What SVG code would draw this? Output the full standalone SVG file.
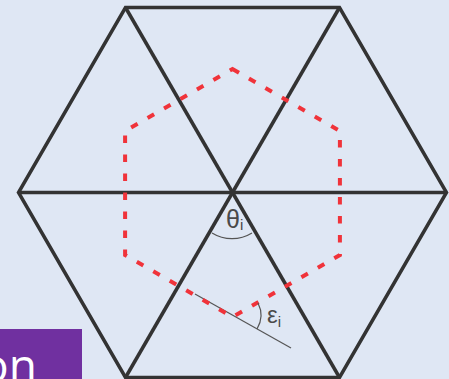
<svg xmlns="http://www.w3.org/2000/svg" width="449" height="379" viewBox="0 0 449 379">
<style>
.hex{fill:none;stroke:#333333;stroke-width:3.5;stroke-linejoin:miter}
.spoke{stroke:#333333;stroke-width:3.5}
.red{fill:none;stroke:#f0333a;stroke-width:4;stroke-dasharray:7.5 11.5}
.thin{fill:none;stroke:#555555;stroke-width:1.2}
.lbl{font-family:"Liberation Sans",Arial,sans-serif;fill:#4a4a4a}
</style>
<rect x="0" y="0" width="449" height="379" fill="#dfe7f4"/>
<g id="outer-hexagon">
<polygon class="hex" points="125.5,7.5 339.5,7.5 446.5,192.5 339.5,377.5 125.5,377.5 18.5,192.5"/>
</g>
<g id="connectors">
<line class="spoke" x1="18.5" y1="192.5" x2="446.5" y2="192.5"/>
<line class="spoke" x1="125.5" y1="7.5" x2="339.5" y2="377.5"/>
<line class="spoke" x1="339.5" y1="7.5" x2="125.5" y2="377.5"/>
<line class="thin" x1="195" y1="294" x2="291" y2="348"/>
</g>
<g id="inner-hexagon">
<path class="red" d="M232.5,69 L339.9,131 L339.9,255 L232.5,317 L125.1,255 L125.1,131 Z"/>
</g>
<g id="theta-angle">
<path class="thin" d="M212,233 A38,38 0 0 0 252,233"/>
<text class="lbl" x="226" y="228" font-size="25">θ<tspan font-size="15" dy="2">i</tspan></text>
</g>
<g id="epsilon-angle">
<path class="thin" d="M258,303 A27,27 0 0 1 257,329"/>
<text class="lbl" x="267" y="323" font-size="24">ε<tspan font-size="15" dy="4">i</tspan></text>
</g>
<g id="title-box">
<rect x="0" y="329" width="82" height="50" fill="#7030a0"/>
<text x="-19" y="382" font-family="'Open Sans','Noto Sans',sans-serif" font-size="46" fill="#ffffff">on</text>
</g>
</svg>
